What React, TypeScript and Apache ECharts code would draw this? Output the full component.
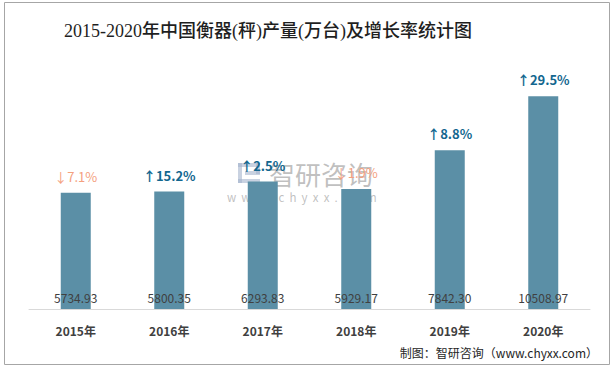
import React, { useEffect, useRef } from "react";
import * as echarts from "echarts";

const categories = ["2015年", "2016年", "2017年", "2018年", "2019年", "2020年"];
const production = [5734.93, 5800.35, 6293.83, 5929.17, 7842.3, 10508.97];
const growth = [-7.1, 15.2, 2.5, -1.9, 8.8, 29.5];

const FONT = "'Noto Sans CJK SC', 'Noto Sans', sans-serif";

export default function App() {
  const ref = useRef<HTMLDivElement>(null);
  useEffect(() => {
    if (!ref.current) return;
    const chart = echarts.init(ref.current, undefined, { renderer: "svg" });
    const wm = "rgba(150,150,150,0.6)";
    const logo = "rgba(165,180,205,0.6)";
    chart.setOption({
      animation: false,
      backgroundColor: "#ffffff",
      title: {
        text: "2015-2020年中国衡器(秤)产量(万台)及增长率统计图",
        left: 59,
        top: 17,
        textStyle: {
          fontFamily: "'Liberation Serif', 'Noto Sans CJK SC', serif",
          fontSize: 18,
          fontWeight: 500,
          color: "#1f1f1f",
        },
      },
      grid: { left: 29, right: 26, top: 66, bottom: 59 },
      xAxis: {
        type: "category",
        data: categories,
        axisLine: { lineStyle: { color: "#d9d9d9", width: 1 } },
        axisTick: { show: false },
        axisLabel: {
          margin: 15,
          fontFamily: FONT,
          fontSize: 12,
          fontWeight: "bold",
          color: "#404040",
        },
      },
      yAxis: {
        type: "value",
        min: 0,
        max: 12000,
        show: false,
        splitLine: { show: false },
      },
      series: [
        {
          type: "bar",
          data: production,
          barWidth: 30,
          itemStyle: { color: "#5b8fa6" },
          label: {
            show: true,
            position: "insideBottom",
            distance: 6,
            fontFamily: FONT,
            fontSize: 12,
            color: "#404040",
            formatter: (p: any) => p.value.toFixed(2),
          },
          z: 2,
        },
        {
          type: "bar",
          data: production,
          barWidth: 30,
          barGap: "-100%",
          itemStyle: { color: "rgba(0,0,0,0)" },
          label: {
            show: true,
            position: "top",
            distance: 10,
            fontFamily: FONT,
            formatter: (p: any) => {
              const g = growth[p.dataIndex];
              return g >= 0 ? `{up|↑${g.toFixed(1)}%}` : `{down|↓${Math.abs(g).toFixed(1)}%}`;
            },
            rich: {
              up: { color: "#13678f", fontSize: 13, fontWeight: "bold", fontFamily: FONT },
              down: { color: "#f4a07e", fontSize: 13, fontFamily: FONT },
            },
          },
          z: 3,
        },
      ],
      graphic: [
        {
          type: "rect",
          shape: { x: 4.5, y: 2.5, width: 605, height: 362 },
          style: { fill: "none", stroke: "#a6a6a6", lineWidth: 1 },
          z: 10,
        },
        {
          type: "group",
          z: 20,
          children: [
            { type: "rect", shape: { x: 238, y: 163, width: 22, height: 4 }, style: { fill: logo } },
            { type: "rect", shape: { x: 238, y: 163, width: 4, height: 20 }, style: { fill: logo } },
            { type: "rect", shape: { x: 256, y: 163, width: 4, height: 11 }, style: { fill: logo } },
            { type: "rect", shape: { x: 245, y: 171, width: 15, height: 4 }, style: { fill: logo } },
            { type: "rect", shape: { x: 238, y: 179, width: 22, height: 4 }, style: { fill: logo } },
            {
              type: "text",
              x: 269,
              y: 173,
              style: {
                text: "智研咨询",
                font: `26px ${FONT}`,
                fill: wm,
                verticalAlign: "middle",
              },
            },
            {
              type: "text",
              x: 227,
              y: 197,
              style: {
                text: "w  w  w  .  c  h  y  x  x  .  c  o  m",
                font: `11.5px ${FONT}`,
                fill: wm,
                verticalAlign: "middle",
              },
            },
          ],
        },
        {
          type: "text",
          right: 18,
          top: 346,
          style: {
            text: "制图：智研咨询（www.chyxx.com）",
            font: `12px 'Noto Sans CJK SC', sans-serif`,
            fill: "#262626",
          },
          z: 10,
        },
      ],
    });
    return () => chart.dispose();
  }, []);
  return <div ref={ref} style={{ width: 616, height: 368, position: "absolute", left: 0, top: 0 }} />;
}
